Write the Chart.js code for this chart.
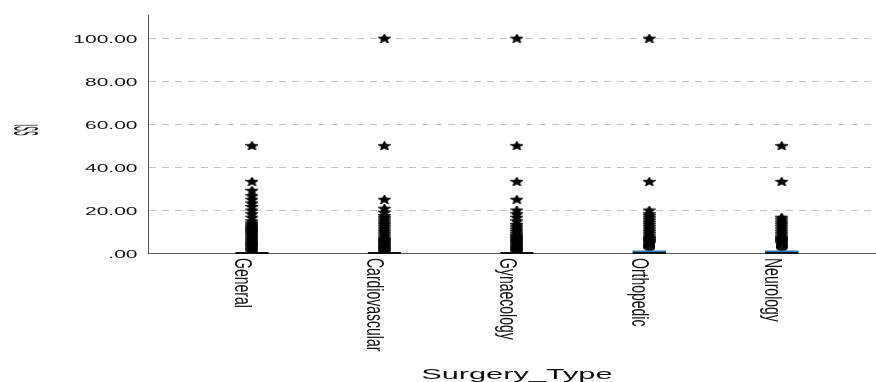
<!DOCTYPE html>
<html>
<head>
<meta charset="utf-8">
<script src="https://cdn.jsdelivr.net/npm/chart.js@4.4.1/dist/chart.umd.min.js"></script>
<style>
  html, body { margin: 0; padding: 0; background: #fff; }
</style>
</head>
<body>
<canvas id="chart" width="876" height="382"></canvas>
<script>
const categories = ["General", "Cardiovascular", "Gynaecology", "Orthopedic", "Neurology"];

// box parts (ISS is 0 for most patients so the boxes collapse)
const boxQ1 = [0, 0, 0, 0, 0];
const boxQ3 = [0, 0, 0, 1, 1];
const medians = [0, 0, 0, 0, 0];

// extreme outliers (stars)
const starsGeneral = [50, 33.33, 29.17, 26.67, 25, 23.33, 21.67, 20, 18.33, 16.67, 15, 14, 13.5, 13, 12.5, 12, 11.5, 11, 10.5, 10, 9.5, 9, 8.5, 8, 7.5, 7, 6.5, 6, 5.5, 5, 4.5, 4, 3.5, 3, 2.5, 2, 1.5, 1, 0.5];
const starsCardio = [100, 50, 25, 20.83, 19, 17.5, 16.67, 15.83, 15, 14.17, 13.33, 12.5, 11.67, 10.83, 10, 9.17, 8.33, 7.5, 6.67, 6.25, 5.83, 5.42, 5, 4.58, 4.17, 3.75, 3.33, 2.92, 2.5, 2.08, 1.67, 1.25, 0.83, 0.42];
const starsGynae = [100, 50, 33.33, 25, 20, 18.33, 16.67, 15, 13.33, 12.5, 11.67, 10.83, 10, 9.17, 8.33, 7.92, 7.5, 7.08, 6.67, 6.25, 5.83, 5.42, 5, 4.58, 4.17, 3.75, 3.33, 2.92, 2.5, 2.08, 1.67, 1.25, 0.83, 0.42];
const starsOrtho = [100, 33.33, 20, 18.33, 17.5, 16.67, 15.83, 15, 14.17, 13.33, 12.5, 11.67, 10.83, 10, 9.17, 8.33, 7.5, 7.08, 6.67, 6.25, 5.83, 5.42, 5, 4.58];
const starsNeuro = [50, 33.33, 16.67, 15.83, 15, 14.17, 13.33, 12.5, 11.67, 10.83, 10, 9.17, 8.33, 7.5, 7.08, 6.67, 6.25, 5.83, 5.42, 5, 4.58];

// mild outliers (circles)
const circlesOrtho = [2.5, 3, 3.5, 4];
const circlesNeuro = [2.5, 3, 3.5, 4];

const yTickValues = [0, 20, 40, 60, 80, 100];
const yTickLabels = [".00", "20.00", "40.00", "60.00", "80.00", "100.00"];
const xTitle = "Surgery_Type";
const yTitle = "ISS";

function makeStar(w, h) {
  const c = document.createElement('canvas');
  c.width = w; c.height = h;
  const g = c.getContext('2d');
  const sx = (w / 2) / 0.951, sy = h / 1.809;
  g.translate(w / 2, h / 2 + 0.095 * sy);
  g.beginPath();
  for (let k = 0; k < 10; k++) {
    const r = k % 2 === 0 ? 1 : 0.46;
    const a = -Math.PI / 2 + k * Math.PI / 5;
    g.lineTo(Math.cos(a) * r * sx, Math.sin(a) * r * sy);
  }
  g.closePath();
  g.fillStyle = '#000';
  g.fill();
  g.lineWidth = 0.6;
  g.strokeStyle = '#000';
  g.stroke();
  return c;
}

function makeCircle(w, h) {
  const c = document.createElement('canvas');
  c.width = w; c.height = h;
  const g = c.getContext('2d');
  g.beginPath();
  g.ellipse(w / 2, h / 2, w / 2 - 1, h / 2 - 1, 0, 0, Math.PI * 2);
  g.lineWidth = 1.6;
  g.strokeStyle = '#000';
  g.stroke();
  return c;
}

const starImg = makeStar(13, 9);
const circleImg = makeCircle(12, 7);

const starLists = [starsGeneral, starsCardio, starsGynae, starsOrtho, starsNeuro];
const circleLists = [[], [], [], circlesOrtho, circlesNeuro];

const starPoints = [];
starLists.forEach((list, i) => list.forEach(v => starPoints.push({x: i + 1, y: v})));
const circlePoints = [];
circleLists.forEach((list, i) => list.forEach(v => circlePoints.push({x: i + 1, y: v})));
const boxData = categories.map((c, i) => ({x: i + 1, y: [boxQ1[i], boxQ3[i]]}));
const medianData = categories.map((c, i) => ({x: i + 1, y: medians[i]}));

const spssText = {
  id: 'spssText',
  afterDraw(chart) {
    const {ctx, scales: {x, y}} = chart;
    ctx.save();
    ctx.fillStyle = '#111';

    // y tick labels, stretched like the original
    ctx.font = '10.5px "Liberation Sans", Arial, sans-serif';
    ctx.textAlign = 'right';
    ctx.textBaseline = 'middle';
    yTickValues.forEach((v, i) => {
      ctx.save();
      ctx.translate(x.left - 10.5, y.getPixelForValue(v) + 2);
      ctx.scale(2.0, 1);
      ctx.fillText(yTickLabels[i], 0, 0);
      ctx.restore();
    });

    // category labels, rotated clockwise
    ctx.font = '14px "Liberation Sans", Arial, sans-serif';
    ctx.textAlign = 'left';
    ctx.textBaseline = 'alphabetic';
    categories.forEach((c, i) => {
      ctx.save();
      ctx.translate(x.getPixelForValue(i + 1) - 17, y.bottom + 5);
      ctx.rotate(Math.PI / 2);
      ctx.scale(1, 1.75);
      ctx.fillText(c, 0, 0);
      ctx.restore();
    });

    // x title
    ctx.font = '15px "Liberation Sans", Arial, sans-serif';
    ctx.textAlign = 'center';
    ctx.save();
    ctx.translate((x.getPixelForValue(1) + x.getPixelForValue(5)) / 2, 379);
    ctx.scale(2.05, 1);
    ctx.fillText(xTitle, 0, 0);
    ctx.restore();

    // y title
    ctx.font = '7px "Liberation Sans", Arial, sans-serif';
    ctx.textBaseline = 'middle';
    ctx.save();
    ctx.translate(24, 130);
    ctx.rotate(Math.PI / 2);
    ctx.scale(1, 5);
    ctx.fillText(yTitle, 0, 0);
    ctx.restore();

    ctx.restore();
  }
};

const ctx = document.getElementById("chart").getContext('2d');

new Chart(ctx, {
  type: 'scatter',
  data: {
    datasets: [
      {
        type: 'scatter',
        data: starPoints,
        pointStyle: starImg,
        order: 1
      },
      {
        type: 'scatter',
        data: circlePoints,
        pointStyle: circleImg,
        order: 2
      },
      {
        type: 'scatter',
        data: medianData,
        pointStyle: 'line',
        pointRadius: 16.5,
        pointBorderWidth: 2,
        pointBorderColor: '#111',
        borderColor: '#111',
        clip: false,
        order: 3
      },
      {
        type: 'bar',
        data: boxData,
        backgroundColor: '#2378c0',
        borderWidth: 0,
        barThickness: 33,
        order: 4
      }
    ]
  },
  options: {
    responsive: false,
    animation: false,
    events: [],
    layout: { autoPadding: false, padding: { top: 15, left: 0, right: 0, bottom: 0 } },
    plugins: {
      legend: { display: false },
      tooltip: { enabled: false }
    },
    scales: {
      x: {
        type: 'linear',
        offset: false,
        min: 0.2147,
        max: 5.712,
        grid: { display: false, offset: false },
        border: { display: true, color: '#555', width: 1 },
        ticks: { display: false },
        afterFit: s => { s.height = 129; }
      },
      y: {
        type: 'linear',
        min: 0,
        max: 110.8,
        afterBuildTicks: s => { s.ticks = yTickValues.map(v => ({value: v})); },
        grid: {
          color: c => c.tick && c.tick.value === 0 ? 'rgba(0,0,0,0)' : '#c4c4c4',
          drawTicks: false
        },
        border: { display: true, color: '#555', width: 1, dash: [7, 6] },
        ticks: { display: false },
        afterFit: s => { s.width = 148; }
      }
    }
  },
  plugins: [spssText]
});
</script>
</body>
</html>
